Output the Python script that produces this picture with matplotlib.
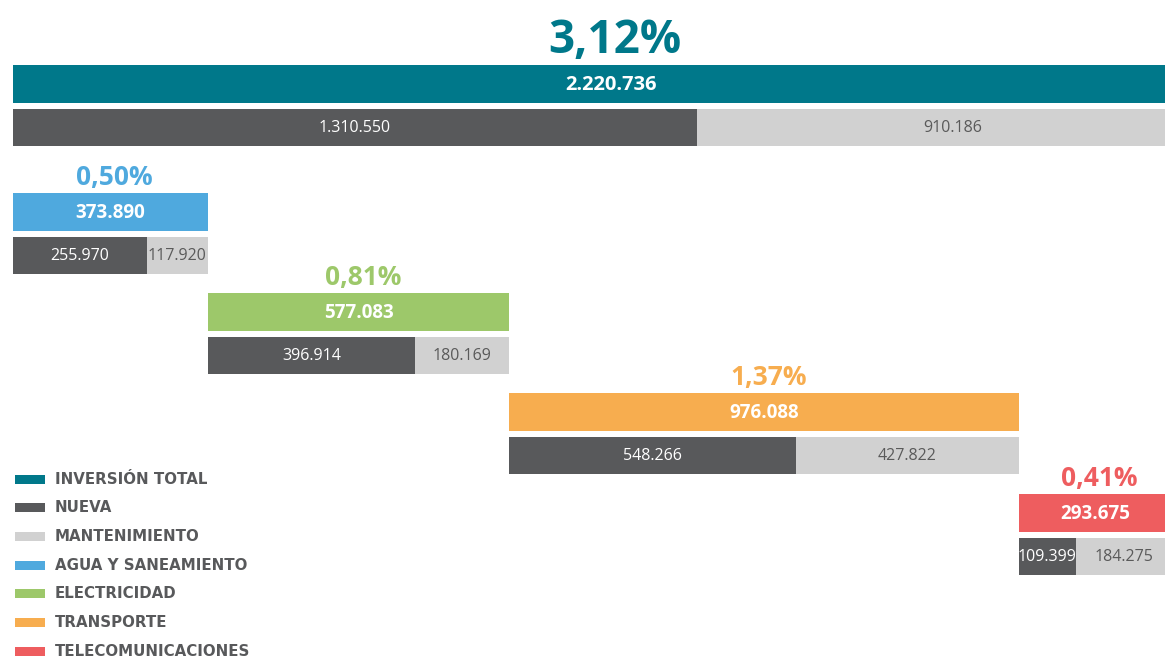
import matplotlib
matplotlib.use("Agg")
import matplotlib.pyplot as plt

# Investment figures
total_label = "3,12%"
total_value = 2220736
total_nueva = 1310550
total_mant = 910186

sectors = ["AGUA Y SANEAMIENTO", "ELECTRICIDAD", "TRANSPORTE", "TELECOMUNICACIONES"]
sector_pct = ["0,50%", "0,81%", "1,37%", "0,41%"]
sector_total = [373890, 577083, 976088, 293675]
sector_nueva = [255970, 396914, 548266, 109399]
sector_mant = [117920, 180169, 427822, 184275]

legend_labels = ["INVERSIÓN TOTAL", "NUEVA", "MANTENIMIENTO",
                 "AGUA Y SANEAMIENTO", "ELECTRICIDAD", "TRANSPORTE",
                 "TELECOMUNICACIONES"]

TEAL = "#00788A"
DARK = "#58595B"
LIGHT = "#D1D1D1"
sector_colors = ["#4FA9DE", "#9DC86A", "#F7AD4F", "#EE5D5F"]
legend_colors = [TEAL, DARK, LIGHT] + sector_colors

W, H = 1165, 657
fig = plt.figure(figsize=(W / 100, H / 100), dpi=100)
ax = fig.add_axes([0, 0, 1, 1])

PX = 0.000522          # pixels per unit
X0 = 13                # left margin in pixels
ax.set_xlim(-X0 / PX, (W - X0) / PX)
ax.set_ylim(H, 0)
ax.axis("off")

FONT = "Open Sans"
PCT_DX = 4 / PX        # small optical nudge for the percentage labels


def fmt(v):
    return f"{v:,}".replace(",", ".")


def draw_block(left, total, nueva, mant, color, pct, top, pct_size, val_size,
               pct_gap, label_span=None):
    bh = 38
    sub_top = top + bh + 5
    ax.barh(top + bh / 2, total, left=left, height=bh, color=color, lw=0)
    ax.barh(sub_top + 19, nueva, left=left, height=37, color=DARK, lw=0)
    ax.barh(sub_top + 19, mant, left=left + nueva, height=37, color=LIGHT, lw=0)
    span = label_span if label_span is not None else total
    cx = left + span / 2
    ax.text(cx, top + bh / 2 + 1, fmt(total), ha="center", va="center",
            color="white", fontsize=val_size, fontweight="bold", family=FONT)
    ax.text(cx + PCT_DX, top - pct_gap, pct, ha="center", va="baseline",
            color=color, fontsize=pct_size, fontweight="bold", family=FONT)
    ax.text(left + nueva / 2, sub_top + 20, fmt(nueva), ha="center",
            va="center", color="white", fontsize=11.5, family=FONT)
    mspan = span - nueva
    ax.text(left + nueva + mspan / 2, sub_top + 20, fmt(mant), ha="center",
            va="center", color="#5A5A5A", fontsize=11.5, family=FONT)


# Headline row (wider frame extends past the right edge)
draw_block(0, total_value, total_nueva, total_mant, TEAL, total_label, 65,
           33, 14.5, 12, label_span=total_value + 36 / PX)

tops = [193, 293, 393, 494]
left = 0
for i in range(len(sectors)):
    draw_block(left, sector_total[i], sector_nueva[i], sector_mant[i],
               sector_colors[i], sector_pct[i], tops[i], 19, 13.5, 8)
    left += sector_total[i]

# Legend
for i, (lab, col) in enumerate(zip(legend_labels, legend_colors)):
    y = 479 + i * 28.7
    fig.patches.append(plt.Rectangle((15 / W, 1 - (y + 4.5) / H), 30 / W, 9 / H,
                                     transform=fig.transFigure, color=col,
                                     lw=0))
    fig.text(55 / W, 1 - y / H, lab, ha="left", va="center", color="#58595B",
             fontsize=10.8, fontweight="bold", family="DejaVu Sans")

fig.savefig("out.png", dpi=100)
